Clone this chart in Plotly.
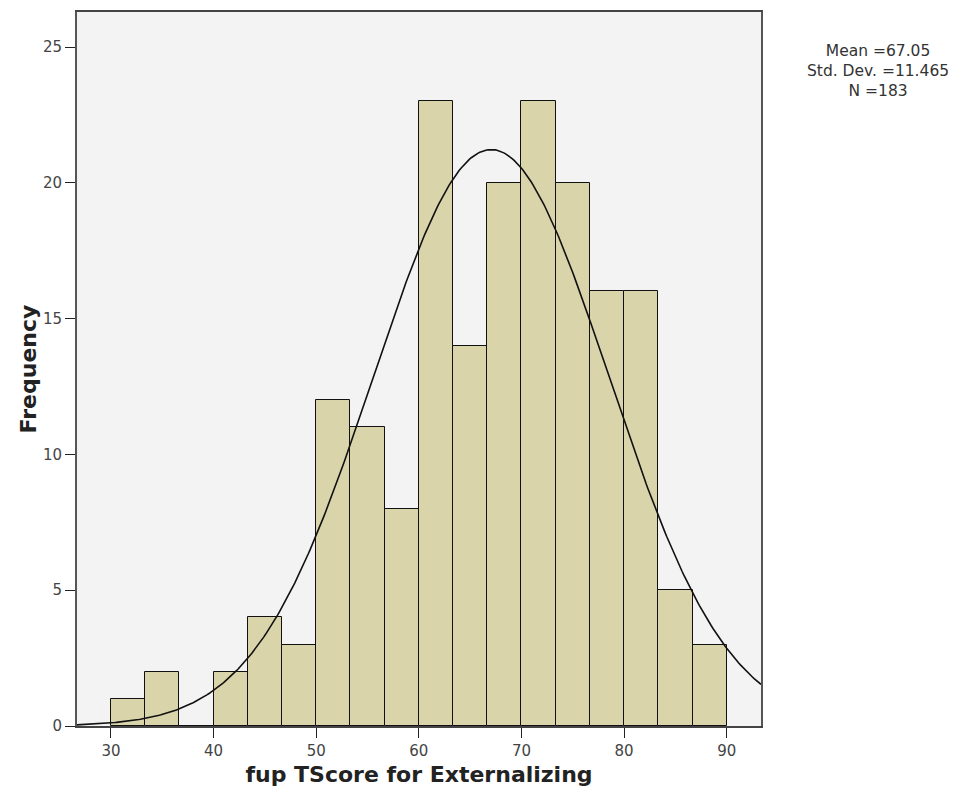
import numpy as np
import plotly.graph_objects as go

bin_start = 30.0
bin_width = 10.0 / 3.0
counts = [1, 2, 0, 2, 4, 3, 12, 11, 8, 23, 14, 20, 23, 20, 16, 16, 5, 3]
mean_v = 67.05
sd_v = 11.465
n_v = 183
x_ticks = [30, 40, 50, 60, 70, 80, 90]
y_ticks = [0, 5, 10, 15, 20, 25]
x_range = [26.69, 93.34]
y_range = [0, 26.29]
stat_lines = [f"Mean ={mean_v:.2f}", f"Std. Dev. ={sd_v:.3f}", f"N ={n_v}"]

centers = [bin_start + bin_width * (i + 0.5) for i in range(len(counts))]

xs = np.linspace(x_range[0], x_range[1], 400)
ys = n_v * bin_width / (sd_v * np.sqrt(2 * np.pi)) * np.exp(-0.5 * ((xs - mean_v) / sd_v) ** 2)

fig = go.Figure()
fig.add_trace(go.Bar(
    x=centers, y=counts, width=bin_width,
    marker=dict(color="#d9d4aa", line=dict(color="#111111", width=1)),
    hoverinfo="x+y",
))
fig.add_trace(go.Scatter(
    x=xs, y=ys, mode="lines",
    line=dict(color="#111111", width=1.6),
    hoverinfo="skip",
))

# page has an 8px body margin; figure pixel coords = page coords - 8
off = 8
L, R, T, B = 77 - off, 761 - off, 10 - off, 726 - off
W, H = 960, 792
plot_w = R - L
plot_h = B - T

font_family = "DejaVu Sans, Verdana, sans-serif"
annotations = [dict(
    x=(877.5 - off - L) / plot_w, y=(B - (69.2 - off)) / plot_h,
    xref="paper", yref="paper", showarrow=False,
    text="<br>".join(stat_lines), align="center",
    xanchor="center", yanchor="middle",
    font=dict(size=15.5, color="#333333"),
)]

fig.update_layout(
    width=W, height=H,
    margin=dict(l=L, r=W - R, t=T, b=H - B, pad=0),
    paper_bgcolor="white",
    plot_bgcolor="#f3f3f3",
    showlegend=False,
    bargap=0,
    font=dict(family=font_family, color="#333333", size=15),
    xaxis=dict(
        range=x_range, tickvals=x_ticks, ticks="outside", ticklen=10,
        tickcolor="#222222", showgrid=False, zeroline=False,
        showline=True, linecolor="#444444", linewidth=2, mirror=True,
        tickfont=dict(size=15, color="#444444"),
        title=dict(text="<b>fup TScore for Externalizing</b>",
                   font=dict(size=22, color="#222222"), standoff=8),
    ),
    yaxis=dict(
        range=y_range, tickvals=y_ticks, ticks="outside", ticklen=10,
        tickcolor="#222222", showgrid=False, zeroline=False,
        showline=True, linecolor="#555555", linewidth=2, mirror=True,
        tickfont=dict(size=15, color="#444444"),
        title=dict(text="<b>Frequency</b>",
                   font=dict(size=22, color="#222222"), standoff=0),
    ),
    annotations=annotations,
)

fig.write_html("out.html")
